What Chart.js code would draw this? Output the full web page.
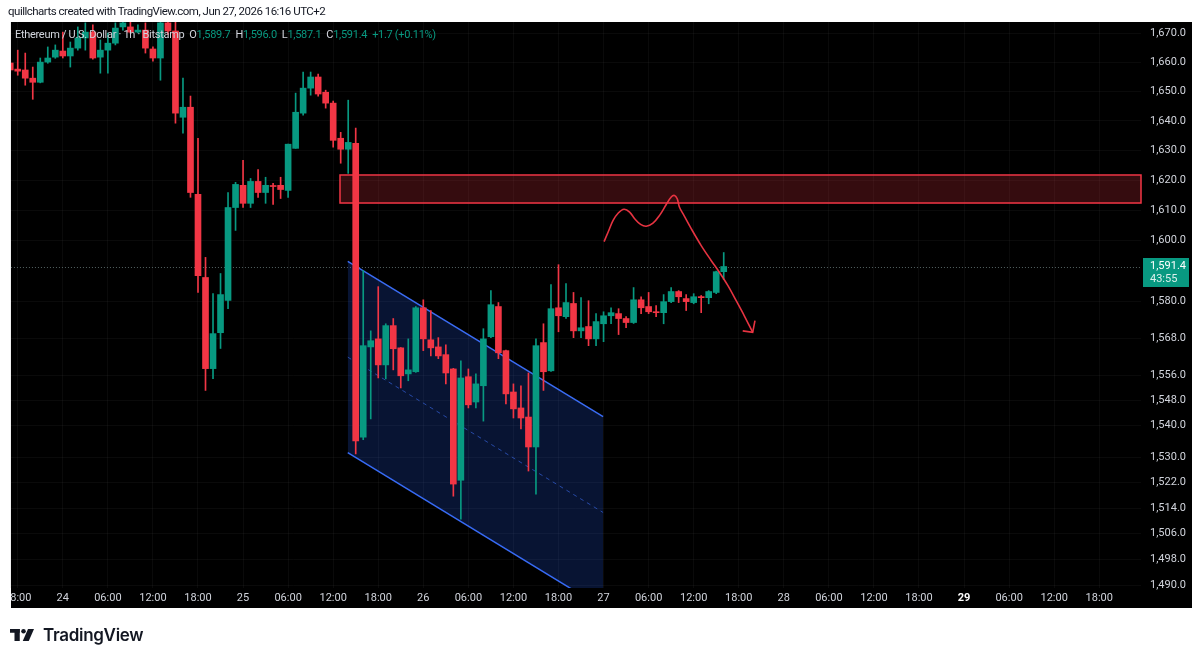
<!DOCTYPE html>
<html>
<head>
<meta charset="utf-8">
<title>Ethereum / U.S. Dollar - 1h - Bitstamp</title>
<script src="https://cdn.jsdelivr.net/npm/chart.js@4.4.1/dist/chart.umd.min.js"></script>
<style>
  html, body { margin: 0; padding: 0; background: #fff; }
  #wrap { position: relative; width: 1200px; height: 659px; }
  #header { position: absolute; left: 8px; top: 4px; font: 11.5px Roboto, sans-serif; color: #131722; letter-spacing: -0.5px; white-space: nowrap; }
  #legend { position: absolute; left: 15px; top: 28px; font: 11px Roboto, sans-serif; color: #d1d4dc; letter-spacing: -0.3px; white-space: nowrap; }
  #legend .v { color: #089981; margin-right: 5px; }
  #logo { position: absolute; left: 10px; top: 625px; display: flex; align-items: center; gap: 9px; font: 600 17px Inter, sans-serif; color: #131722; letter-spacing: -0.3px; }
</style>
</head>
<body>
<div id="wrap">
  <canvas id="chart"></canvas>
  <div id="header">quillcharts created with TradingView.com, Jun 27, 2026 16:16 UTC+2</div>
  <div id="legend"></div>
  <div id="logo">
    <svg width="24" height="12" viewBox="0 0 32 16"><rect x="0" y="0" width="13" height="5" fill="#131722"/><rect x="6" y="0" width="7" height="16" fill="#131722"/><circle cx="18" cy="3" r="3" fill="#131722"/><polygon points="24,0 32,0 25,16 17,16" fill="#131722"/></svg>
    <span>TradingView</span>
  </div>
</div>
<script>
// Hourly candles, first one is Jun 23 17:00 (hour -7 relative to Jun 24 00:00)
const firstHour = -7;

const open = [
  1659.7, 1657.6, 1657.3, 1654.5, 1653.1, 1660.0, 1661.7, 1663.8, 1662.1, 1664.8,
  1668.3, 1670.3, 1661.7, 1664.1, 1666.5, 1672.1, 1672.1, 1670.3, 1671.0, 1664.5,
  1661.4, 1673.5, 1670.7, 1641.2, 1644.6, 1615.3, 1587.8, 1558.2, 1569.8, 1580.3,
  1610.9, 1618.3, 1612.3, 1619.6, 1615.9, 1618.0, 1618.3, 1616.6, 1630.7, 1642.6,
  1651.1, 1654.9, 1649.7, 1646.0, 1634.1, 1630.4, 1632.4, 1536.3, 1565.2, 1567.8,
  1559.4, 1572.1, 1564.9, 1556.5, 1557.2, 1577.9, 1567.5, 1565.2, 1562.7, 1558.1,
  1522.7, 1555.6, 1547.5, 1552.7, 1568.5, 1578.3, 1564.0, 1550.7, 1545.6, 1542.7,
  1533.2, 1566.6, 1557.5, 1577.9, 1575.0, 1579.3, 1570.4, 1571.8, 1567.8, 1572.7,
  1575.3, 1576.0, 1574.4, 1573.1, 1580.5, 1578.3, 1576.6, 1576.3, 1579.9, 1583.2,
  1580.9, 1579.6, 1581.5, 1581.2, 1582.9, 1589.7
];
const high = [
  1660.7, 1664.1, 1663.1, 1658.3, 1661.4, 1665.2, 1665.9, 1670.3, 1666.9, 1672.1,
  1673.5, 1672.8, 1667.6, 1670.0, 1673.5, 1674.5, 1673.8, 1672.8, 1673.5, 1665.2,
  1674.5, 1675.0, 1673.8, 1654.5, 1648.4, 1634.1, 1594.4, 1582.5, 1589.1, 1615.9,
  1619.3, 1626.7, 1620.6, 1623.6, 1621.0, 1619.0, 1621.0, 1632.1, 1649.4, 1656.6,
  1656.6, 1655.9, 1650.4, 1646.7, 1636.1, 1647.0, 1637.5, 1590.1, 1570.4, 1584.8,
  1572.7, 1574.4, 1565.0, 1567.8, 1578.3, 1580.5, 1577.0, 1568.2, 1565.9, 1558.3,
  1560.7, 1558.1, 1556.5, 1571.1, 1583.5, 1579.6, 1564.2, 1553.3, 1552.7, 1556.8,
  1567.8, 1572.7, 1585.5, 1592.0, 1585.8, 1582.9, 1581.2, 1580.2, 1576.0, 1576.6,
  1577.9, 1577.6, 1575.0, 1584.5, 1581.5, 1582.9, 1578.6, 1582.2, 1584.5, 1583.5,
  1582.2, 1582.5, 1581.9, 1583.5, 1589.9, 1596.0
];
const low = [
  1656.6, 1655.5, 1652.1, 1647.3, 1652.9, 1659.6, 1661.3, 1661.4, 1658.3, 1664.1,
  1664.1, 1661.0, 1656.2, 1656.2, 1665.9, 1671.0, 1670.0, 1670.0, 1663.1, 1660.3,
  1653.8, 1669.5, 1639.2, 1635.8, 1614.3, 1582.9, 1551.2, 1555.0, 1564.7, 1577.6,
  1603.3, 1610.9, 1610.9, 1614.3, 1612.3, 1611.9, 1613.9, 1614.3, 1630.7, 1641.9,
  1648.7, 1648.4, 1644.3, 1631.1, 1625.7, 1622.3, 1531.0, 1535.5, 1542.1, 1555.2,
  1554.9, 1557.8, 1552.0, 1554.3, 1557.0, 1564.0, 1562.3, 1561.4, 1553.3, 1517.7,
  1510.5, 1545.6, 1545.6, 1541.4, 1568.2, 1561.4, 1546.9, 1542.4, 1538.9, 1525.6,
  1518.3, 1551.2, 1557.3, 1570.1, 1574.4, 1568.2, 1568.2, 1565.6, 1565.6, 1566.9,
  1572.7, 1569.2, 1571.4, 1572.8, 1576.0, 1576.0, 1575.0, 1572.7, 1579.6, 1579.6,
  1577.0, 1579.2, 1576.3, 1579.2, 1582.5, 1587.1
];
const close = [
  1657.3, 1656.9, 1654.5, 1653.1, 1660.0, 1661.4, 1664.1, 1662.1, 1664.8, 1668.3,
  1670.3, 1661.4, 1664.1, 1666.5, 1671.7, 1673.5, 1670.3, 1671.0, 1664.8, 1661.4,
  1673.5, 1670.7, 1642.6, 1644.6, 1615.9, 1588.4, 1558.2, 1569.5, 1582.2, 1610.9,
  1618.6, 1612.3, 1619.6, 1615.9, 1618.3, 1617.9, 1616.9, 1632.1, 1642.9, 1651.1,
  1654.9, 1649.1, 1646.0, 1633.4, 1630.4, 1632.7, 1535.1, 1565.6, 1567.2, 1559.4,
  1572.1, 1564.6, 1555.9, 1557.8, 1577.9, 1567.8, 1564.9, 1562.3, 1556.8, 1521.5,
  1555.2, 1546.6, 1553.3, 1567.8, 1578.9, 1563.3, 1550.1, 1545.3, 1542.4, 1533.2,
  1565.6, 1557.2, 1577.6, 1575.3, 1579.6, 1570.4, 1571.4, 1567.8, 1573.4, 1575.3,
  1576.3, 1574.4, 1573.1, 1580.5, 1577.9, 1576.6, 1576.3, 1579.9, 1583.2, 1581.5,
  1579.9, 1581.5, 1581.2, 1583.2, 1589.7, 1591.4
];

// Time axis (hours from Jun 24 00:00) and its labels
const xTickHours = [-6, 0, 6, 12, 18, 24, 30, 36, 42, 48, 54, 60, 66, 72, 78, 84, 90, 96, 102, 108, 114, 120, 126, 132, 138];
const xTickLabels = ['18:00', '24', '06:00', '12:00', '18:00', '25', '06:00', '12:00', '18:00', '26', '06:00', '12:00', '18:00',
  '27', '06:00', '12:00', '18:00', '28', '06:00', '12:00', '18:00', '29', '06:00', '12:00', '18:00'];
const boldTickHour = 120;

// Price axis (log scale)
const priceTicks = [1490, 1498, 1506, 1514, 1522, 1530, 1540, 1548, 1556, 1568, 1580, 1600, 1610, 1620, 1630, 1640, 1650, 1660, 1670];
const xMin = -6.906, xMax = 143.56;
const yMin = 1489.2, yMax = 1673.8;

// Resistance zone
const zoneStartHour = 36.9;
const zoneTop = 1621.6;
const zoneBottom = 1612.3;

// Descending channel (hours, prices)
const channelHours = [37.94, 71.94];
const channelUpper = [1593.1, 1542.8];
const channelMiddle = [1561.9, 1512.6];
const channelLower = [1531.4, 1483.0];

// Hand drawn projection
const arrowHours = [72.07, 72.6, 73.27, 73.93, 74.73, 75.47, 76.14, 76.93, 77.69, 78.58, 79.46, 80.35, 81.01,
  81.45, 81.81, 82.11, 82.7, 83.67, 85.0, 86.32, 87.42, 88.54, 89.64, 90.74, 91.86];
const arrowPrices = [1599.6, 1602.7, 1606.6, 1609.0, 1610.3, 1609.4, 1607.2, 1605.3, 1604.7, 1605.7, 1608.3, 1611.9, 1614.4,
  1614.9, 1613.8, 1611.0, 1608.3, 1603.9, 1598.3, 1593.4, 1589.5, 1585.2, 1580.3, 1575.3, 1569.9];
const arrowHeadHours = [90.53, 91.86, 92.16];
const arrowHeadPrices = [1570.4, 1569.9, 1573.7];

const countdown = '43:55';

const UP = '#089981';
const DOWN = '#f23645';

const fmt = v => v.toLocaleString('en-US', { minimumFractionDigits: 1, maximumFractionDigits: 1 });
const pts = (xs, ys) => xs.map((x, i) => ({ x: x, y: ys[i] }));

const candleColors = close.map((c, i) => c >= open[i] ? UP : DOWN);
const wickData = high.map((h, i) => ({ x: firstHour + i, y: [low[i], h] }));
const bodyData = open.map((o, i) => ({ x: firstHour + i, y: [o, close[i]] }));

const last = close.length - 1;
const lastClose = close[last];

// Header legend (OHLC of the last bar)
const change = close[last] - close[last - 1];
const changePct = change / close[last - 1] * 100;
document.getElementById('legend').innerHTML =
  'Ethereum / U.S. Dollar · 1h · Bitstamp &nbsp;' +
  'O<span class="v">' + fmt(open[last]) + '</span>' +
  'H<span class="v">' + fmt(high[last]) + '</span>' +
  'L<span class="v">' + fmt(low[last]) + '</span>' +
  'C<span class="v">' + fmt(close[last]) + '</span>' +
  '<span class="v">+' + change.toFixed(1) + ' (+' + changePct.toFixed(2) + '%)</span>';

// Black pane, zone, last price line and price tag
const panePlugin = {
  id: 'pane',
  beforeDraw(chart) {
    const { ctx, chartArea, scales } = chart;
    ctx.save();
    ctx.fillStyle = '#000';
    ctx.fillRect(chartArea.left, chartArea.top, scales.y.right - chartArea.left, scales.x.bottom - chartArea.top);
    ctx.restore();
  },
  beforeDatasetsDraw(chart) {
    const { ctx, chartArea, scales } = chart;
    const x0 = scales.x.getPixelForValue(zoneStartHour);
    const y0 = scales.y.getPixelForValue(zoneTop);
    const y1 = scales.y.getPixelForValue(zoneBottom);
    ctx.save();
    ctx.fillStyle = 'rgba(242, 54, 69, 0.22)';
    ctx.fillRect(x0, y0, chartArea.right - x0, y1 - y0);
    ctx.strokeStyle = '#f23645';
    ctx.lineWidth = 1.5;
    ctx.strokeRect(Math.round(x0), Math.round(y0), chartArea.right - Math.round(x0), Math.round(y1 - y0));

    const yp = Math.round(scales.y.getPixelForValue(lastClose)) + 0.5;
    ctx.setLineDash([1, 2]);
    ctx.lineWidth = 1;
    ctx.strokeStyle = 'rgba(120, 140, 140, 0.7)';
    ctx.beginPath();
    ctx.moveTo(chartArea.left, yp);
    ctx.lineTo(chartArea.right, yp);
    ctx.stroke();
    ctx.restore();
  },
  afterDraw(chart) {
    const { ctx, chartArea, scales } = chart;
    // the pane clips the first time label
    ctx.save();
    ctx.fillStyle = '#fff';
    ctx.fillRect(0, scales.x.top, chartArea.left, scales.x.height + 2);

    const yp = Math.round(scales.y.getPixelForValue(lastClose));
    const left = scales.y.left + 2;
    ctx.fillStyle = UP;
    ctx.fillRect(left, yp - 9, 46, 29);
    ctx.fillStyle = '#fff';
    ctx.font = '11px Roboto, sans-serif';
    ctx.textBaseline = 'middle';
    ctx.textAlign = 'left';
    ctx.fillText(fmt(lastClose), left + 7, yp - 1);
    ctx.fillStyle = 'rgba(255,255,255,0.85)';
    ctx.fillText(countdown, left + 7, yp + 12);
    ctx.restore();
  }
};

Chart.defaults.font.family = 'Roboto, sans-serif';
Chart.defaults.font.size = 11;
Chart.defaults.color = '#d1d4dc';

new Chart(document.getElementById('chart'), {
  type: 'bar',
  data: {
    datasets: [
      {
        type: 'line',
        data: pts(arrowHours, arrowPrices),
        borderColor: 'rgba(242, 54, 69, 0.95)',
        borderWidth: 1.6,
        tension: 0.35,
        pointRadius: 0,
        order: -2
      },
      {
        type: 'line',
        data: pts(arrowHeadHours, arrowHeadPrices),
        borderColor: 'rgba(242, 54, 69, 0.95)',
        borderWidth: 1.6,
        pointRadius: 0,
        order: -2
      },
      {
        data: wickData,
        backgroundColor: candleColors,
        barThickness: 1,
        grouped: false,
        order: 0
      },
      {
        data: bodyData,
        backgroundColor: candleColors,
        barThickness: 6,
        minBarLength: 1,
        grouped: false,
        order: 0
      },
      {
        type: 'line',
        data: pts(channelHours, channelMiddle),
        borderColor: 'rgba(58, 108, 244, 0.6)',
        borderWidth: 1,
        borderDash: [4, 4],
        pointRadius: 0,
        order: 5
      },
      {
        type: 'line',
        data: pts(channelHours, channelUpper),
        borderColor: '#3a6cf4',
        backgroundColor: 'rgba(41, 98, 255, 0.2)',
        borderWidth: 1.5,
        pointRadius: 0,
        fill: '+1',
        order: 6
      },
      {
        type: 'line',
        data: pts(channelHours, channelLower),
        borderColor: '#3a6cf4',
        borderWidth: 1.5,
        pointRadius: 0,
        order: 7
      }
    ]
  },
  options: {
    responsive: true,
    maintainAspectRatio: false,
    animation: false,
    devicePixelRatio: 1,
    layout: {
      padding: { left: 8, top: 22, right: 8, bottom: 51 }
    },
    plugins: {
      legend: { display: false },
      tooltip: { enabled: false }
    },
    scales: {
      x: {
        type: 'linear',
        min: xMin,
        max: xMax,
        offset: false,
        grid: { color: 'rgba(255, 255, 255, 0.04)', drawTicks: false, offset: false },
        border: { display: false },
        afterBuildTicks: scale => { scale.ticks = xTickHours.map(v => ({ value: v })); },
        afterFit: scale => { scale.height = 20; },
        ticks: {
          autoSkip: false,
          maxRotation: 0,
          padding: 4,
          color: ctx => ctx.tick && ctx.tick.value === boldTickHour ? '#ffffff' : '#d1d4dc',
          font: ctx => ({ family: 'Roboto, sans-serif', size: 11, weight: ctx.tick && ctx.tick.value === boldTickHour ? 'bold' : 'normal' }),
          callback: v => xTickLabels[xTickHours.indexOf(v)]
        }
      },
      y: {
        type: 'logarithmic',
        position: 'right',
        min: yMin,
        max: yMax,
        grid: { color: 'rgba(255, 255, 255, 0.04)', drawTicks: false },
        border: { display: false },
        afterBuildTicks: scale => { scale.ticks = priceTicks.map(v => ({ value: v })); },
        afterFit: scale => { scale.width = 51; },
        ticks: {
          padding: 9,
          callback: v => fmt(v)
        }
      }
    }
  },
  plugins: [panePlugin]
});
</script>
</body>
</html>
